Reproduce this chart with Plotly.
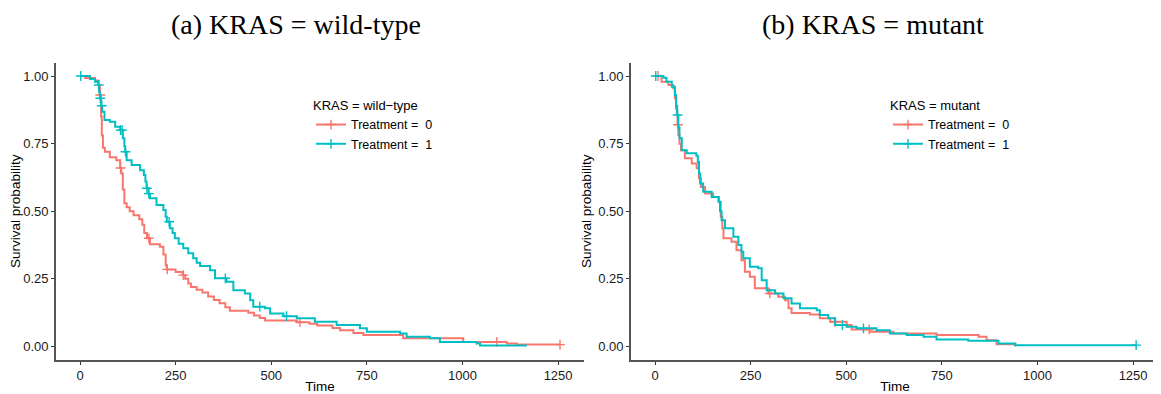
import plotly.graph_objects as go

# ---------------- data ----------------
# Panel (a): KRAS = wild-type, Treatment = 0
wt0_time = [0, 13, 39, 48, 52, 55, 57, 60, 65, 78, 95, 105, 108, 112, 116, 122, 130, 140, 155, 163,
            168, 175, 183, 209, 218, 224, 227, 250, 268, 275, 283, 290, 305, 320, 335, 350, 365, 380,
            392, 440, 455, 470, 484, 567, 600, 620, 660, 680, 715, 741, 845, 1002, 1116, 1142]
wt0_surv = [1.0, 0.993, 0.983, 0.967, 0.93, 0.85, 0.78, 0.735, 0.72, 0.70, 0.689, 0.66, 0.64, 0.58,
            0.53, 0.515, 0.50, 0.485, 0.47, 0.45, 0.42, 0.40, 0.378, 0.369, 0.34, 0.30, 0.285, 0.275,
            0.264, 0.25, 0.233, 0.22, 0.21, 0.20, 0.185, 0.172, 0.16, 0.145, 0.132, 0.125, 0.115,
            0.105, 0.096, 0.090, 0.084, 0.078, 0.068, 0.060, 0.050, 0.042, 0.030, 0.017, 0.011, 0.007]
wt0_end = 1255
wt0_censor = [53, 106, 180, 228, 270, 575, 1090, 1255]

# Panel (a): KRAS = wild-type, Treatment = 1
wt1_time = [0, 26, 39, 48, 50, 52, 55, 58, 64, 78, 92, 105, 112, 116, 118, 122, 135, 157, 167, 171,
            174, 179, 183, 200, 218, 224, 227, 235, 242, 248, 258, 270, 283, 296, 305, 314, 340, 353,
            383, 401, 431, 445, 453, 484, 497, 532, 567, 614, 671, 732, 750, 837, 854, 915, 941, 1037,
            1046]
wt1_surv = [1.0, 0.989, 0.979, 0.967, 0.94, 0.918, 0.89, 0.868, 0.837, 0.831, 0.812, 0.800, 0.770,
            0.74, 0.720, 0.689, 0.671, 0.652, 0.634, 0.61, 0.585, 0.565, 0.548, 0.523, 0.505, 0.48,
            0.461, 0.437, 0.42, 0.400, 0.38, 0.363, 0.345, 0.326, 0.31, 0.298, 0.282, 0.252, 0.239,
            0.208, 0.196, 0.171, 0.147, 0.141, 0.122, 0.112, 0.104, 0.091, 0.079, 0.067, 0.054, 0.048,
            0.036, 0.030, 0.017, 0.011, 0.004]
wt1_end = 1168
wt1_censor = [2, 49, 53, 57, 106, 110, 119, 175, 180, 233, 380, 470, 540]

# Panel (b): KRAS = mutant, Treatment = 0
mu0_time = [0, 17, 35, 48, 52, 55, 57, 59, 61, 64, 68, 78, 96, 109, 115, 120, 131, 152, 167, 172,
            176, 179, 200, 213, 226, 235, 248, 261, 296, 322, 340, 349, 357, 405, 431, 458, 501, 514,
            562, 623, 736, 846, 867, 893, 942]
mu0_surv = [1.0, 0.979, 0.967, 0.955, 0.918, 0.88, 0.856, 0.82, 0.782, 0.75, 0.726, 0.696, 0.677,
            0.659, 0.622, 0.590, 0.566, 0.553, 0.535, 0.48, 0.437, 0.400, 0.387, 0.356, 0.319, 0.276,
            0.258, 0.215, 0.196, 0.184, 0.171, 0.141, 0.124, 0.118, 0.104, 0.091, 0.079, 0.063, 0.054,
            0.048, 0.042, 0.036, 0.023, 0.008, 0.0]
mu0_end = 942
mu0_censor = [8, 60, 300, 470, 560]

# Panel (b): KRAS = mutant, Treatment = 1
mu1_time = [0, 22, 30, 44, 52, 55, 58, 61, 64, 70, 83, 108, 112, 115, 118, 126, 148, 166, 170, 174,
            183, 205, 218, 226, 231, 248, 270, 279, 292, 314, 336, 357, 379, 423, 431, 453, 471, 501,
            527, 579, 614, 658, 702, 736, 819, 898, 942]
mu1_surv = [1.0, 0.994, 0.979, 0.960, 0.930, 0.89, 0.856, 0.81, 0.770, 0.726, 0.714, 0.705, 0.683,
            0.64, 0.603, 0.572, 0.553, 0.535, 0.50, 0.467, 0.437, 0.406, 0.375, 0.35, 0.326, 0.295,
            0.289, 0.245, 0.208, 0.196, 0.178, 0.159, 0.141, 0.134, 0.116, 0.104, 0.079, 0.073, 0.067,
            0.060, 0.048, 0.042, 0.036, 0.026, 0.021, 0.011, 0.005]
mu1_end = 1258
mu1_censor = [2, 59, 490, 545, 1258]

panel_titles = ["(a) KRAS = wild\u2011type", "(b) KRAS = mutant"]
legend_titles = ["KRAS = wild\u2212type", "KRAS = mutant"]
treat_labels = ["Treatment = \u00a00", "Treatment = \u00a01"]
x_ticks = [0, 250, 500, 750, 1000, 1250]
y_ticks = [0, 0.25, 0.5, 0.75, 1.0]
y_ticklabels = ["0.00", "0.25", "0.50", "0.75", "1.00"]

RED = "#F8766D"
CYAN = "#00BFC4"
FONT = "Liberation Sans, Arial, sans-serif"


def step_value(times, surv, t):
    s_c = surv[0]
    for ti, si in zip(times, surv):
        if ti <= t:
            s_c = si
    return s_c


fig = go.Figure()

series = [
    (wt0_time, wt0_surv, wt0_end, wt0_censor, RED, treat_labels[0], "legend", "x", "y", "a0"),
    (wt1_time, wt1_surv, wt1_end, wt1_censor, CYAN, treat_labels[1], "legend", "x", "y", "a1"),
    (mu0_time, mu0_surv, mu0_end, mu0_censor, RED, treat_labels[0], "legend2", "x2", "y2", "b0"),
    (mu1_time, mu1_surv, mu1_end, mu1_censor, CYAN, treat_labels[1], "legend2", "x2", "y2", "b1"),
]
for times, surv, end_t, cens, col, name, leg, xa, ya, grp in series:
    xs = list(times) + ([end_t] if end_t > times[-1] else [])
    ys = list(surv) + ([surv[-1]] if end_t > times[-1] else [])
    fig.add_trace(go.Scatter(
        x=xs, y=ys, mode="lines", name=name, legend=leg, legendgroup=grp, showlegend=False,
        xaxis=xa, yaxis=ya, line=dict(color=col, width=2, shape="hv"), hoverinfo="skip",
    ))
    # censor marks: isolated points (None separators so no lines join them)
    cx, cy = [], []
    for c in cens:
        cx += [c, None]
        cy += [step_value(times, surv, c), None]
    fig.add_trace(go.Scatter(
        x=cx, y=cy, mode="lines+markers", name=name, legend=leg, legendgroup=grp,
        showlegend=True, connectgaps=False, xaxis=xa, yaxis=ya,
        line=dict(color=col, width=2),
        marker=dict(symbol="cross-thin", size=7, color=col, line=dict(color=col, width=1.4)),
        hoverinfo="skip",
    ))

# page has an 8px body margin: figure occupies page pixels 8..1161 / 8..394
OFF = 8
W, H = 1161 - OFF, 394 - OFF


def px(p):
    return (p - OFF) / W


def py(p):
    return (394 - p) / H


ydom = [py(360), py(62.5)]
axis_common = dict(
    showgrid=False, zeroline=False, showline=True, linecolor="#555555", linewidth=1.6,
    ticks="outside", ticklen=3, tickcolor="#333333", tickwidth=1,
    tickfont=dict(family=FONT, size=13, color="#1a1a1a"),
)
xr = [-62.75, 1317.75]
yr = [-0.05, 1.05]

fig.update_layout(
    width=W, height=H,
    margin=dict(l=0, r=0, t=0, b=0),
    paper_bgcolor="white", plot_bgcolor="white",
    font=dict(family=FONT, size=12, color="black"),
    xaxis=dict(domain=[px(56), px(584)], range=xr, tickvals=x_ticks, anchor="y",
               title=dict(text="Time", font=dict(size=13.5), standoff=2), **axis_common),
    yaxis=dict(domain=ydom, range=yr, tickvals=y_ticks, ticktext=y_ticklabels, anchor="x",
               title=dict(text="Survival probability", font=dict(size=13.5), standoff=4),
               **axis_common),
    xaxis2=dict(domain=[px(631), px(1159)], range=xr, tickvals=x_ticks, anchor="y2",
                title=dict(text="Time", font=dict(size=13.5), standoff=2), **axis_common),
    yaxis2=dict(domain=ydom, range=yr, tickvals=y_ticks, ticktext=y_ticklabels, anchor="x2",
                title=dict(text="Survival probability", font=dict(size=13.5), standoff=4),
                **axis_common),
    legend=dict(title=dict(text=legend_titles[0], font=dict(size=13)),
                x=px(311), y=py(93), xanchor="left", yanchor="top",
                bgcolor="rgba(0,0,0,0)", font=dict(size=12.5),
                tracegroupgap=0),
    legend2=dict(title=dict(text=legend_titles[1], font=dict(size=13)),
                 x=px(888), y=py(93), xanchor="left", yanchor="top",
                 bgcolor="rgba(0,0,0,0)", font=dict(size=12.5),
                 tracegroupgap=0),
    showlegend=True,
)

for txt, cx in zip(panel_titles, [296, 873]):
    fig.add_annotation(text=txt, x=px(cx), y=py(24), xref="paper", yref="paper",
                       xanchor="center", yanchor="middle", showarrow=False,
                       font=dict(family="Liberation Serif, Times New Roman, serif", size=28,
                                 color="black"))

fig.write_html("out.html")
